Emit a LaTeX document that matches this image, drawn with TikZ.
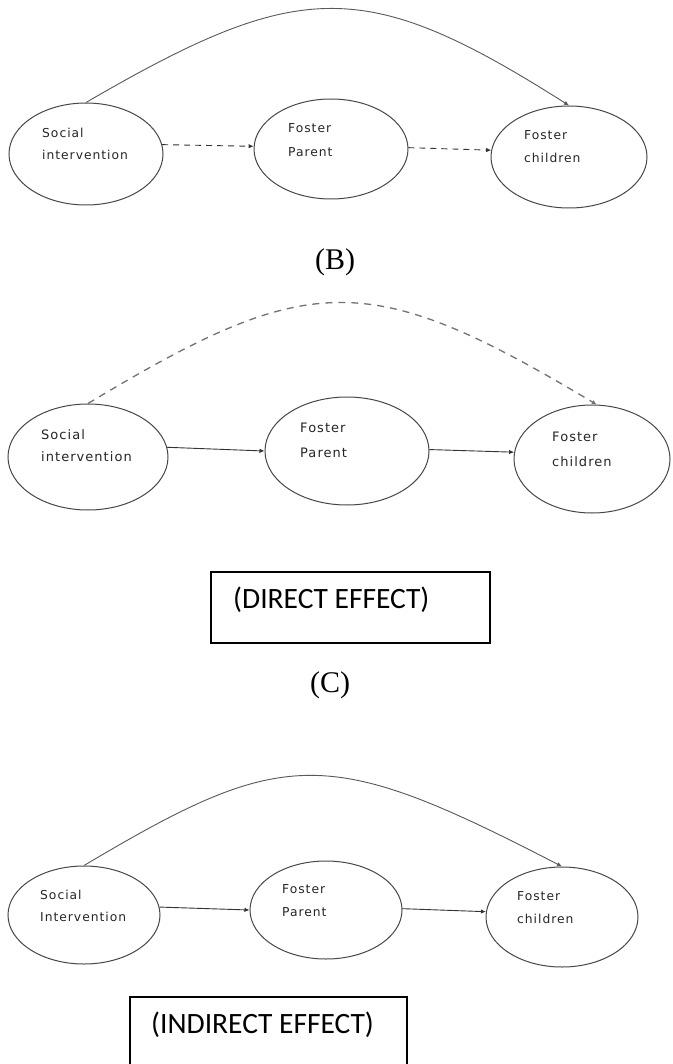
\documentclass[tikz,border=0pt]{standalone}
\usepackage{fontspec}
\setmainfont{Liberation Serif}
\newfontfamily\nodefont{DejaVu Sans}[LetterSpace=8]
\newfontfamily\boxfont{Carlito}
\usetikzlibrary{arrows.meta,shapes.geometric}
\begin{document}
\begin{tikzpicture}[x=1pt,y=-1pt,
  ell/.style={draw=black!72, line width=1pt, ellipse, inner sep=0pt},
  lbl/.style={anchor=west, inner sep=0pt, align=left, text=black!85},
  arr/.style={-{Latex[length=5pt,width=4.5pt]}, line width=0.9pt, draw=black!80},
  dsh/.style={arr, dash pattern=on 6pt off 5pt},
  arc/.style={-{Latex[length=5pt,width=4.5pt]}, line width=0.9pt, draw=black!65},
  darc/.style={arc, line width=1.3pt, draw=black!55, dash pattern=on 7pt off 6pt},
  effbox/.style={draw=black, line width=1.1pt, inner sep=0pt},
  efftext/.style={anchor=west, inner sep=0pt, font=\boxfont\fontsize{29.5}{31}\selectfont},
  panel/.style={inner sep=0pt, font=\fontsize{30}{32}\selectfont}
]
\useasboundingbox (0,0) rectangle (672,1064);
\clip (0,0) rectangle (672,1064);
\fill[white] (0,0) rectangle (672,1064);

% ---------- Panel 1 ----------
\node[ell, minimum width=154pt, minimum height=102pt] (a1) at (86,154) {};
\node[ell, minimum width=154pt, minimum height=100pt] (a2) at (331,149) {};
\node[ell, minimum width=156pt, minimum height=102pt] (a3) at (569,157) {};
\node[lbl, font=\nodefont\fontsize{12.3}{22}\selectfont] (ta1) at (42,144) {Social\\intervention};
\node[lbl, font=\nodefont\fontsize{12.3}{24}\selectfont] (ta2) at (288,140) {Foster\\Parent};
\node[lbl, font=\nodefont\fontsize{12.3}{23}\selectfont] (ta3) at (524,147) {Foster\\children};
\draw[dsh] (a1.7) -- (a2.178);
\draw[dsh] (a2.1) -- (a3.175);
\draw[arc] (a1.north) .. controls (300,-22) and (365,-24) .. (a3.north);
\node[panel] (lb) at (335,262) {(B)};

% ---------- Panel 2 ----------
\node[ell, minimum width=160pt, minimum height=106pt] (b1) at (88,457) {};
\node[ell, minimum width=164pt, minimum height=108pt] (b2) at (347,451) {};
\node[ell, minimum width=156pt, minimum height=108pt] (b3) at (592,459) {};
\node[lbl, font=\nodefont\fontsize{13}{22}\selectfont] (tb1) at (41,446) {Social\\intervention};
\node[lbl, font=\nodefont\fontsize{13}{25}\selectfont] (tb2) at (300,440) {Foster\\Parent};
\node[lbl, font=\nodefont\fontsize{13}{25}\selectfont] (tb3) at (552,449) {Foster\\children};
\draw[arr] (b1.7) -- (b2.180);
\draw[arr] (b2.1) -- (b3.175);
\draw[darc] (b1.north) .. controls (310,270) and (368,268) .. (b3.85);

\node[effbox, minimum width=279pt, minimum height=71pt] (box1) at (350.5,607.5) {};
\node[efftext] (tbox1) at (233,600) {(DIRECT EFFECT)};
\node[panel] (lc) at (330,685) {(C)};

% ---------- Panel 3 ----------
\node[ell, minimum width=152pt, minimum height=98pt] (c1) at (84,915) {};
\node[ell, minimum width=152pt, minimum height=98pt] (c2) at (326,910) {};
\node[ell, minimum width=152pt, minimum height=100pt] (c3) at (562,917) {};
\node[lbl, font=\nodefont\fontsize{12.3}{22}\selectfont] (tc1) at (40,906) {Social\\Intervention};
\node[lbl, font=\nodefont\fontsize{12.3}{23}\selectfont] (tc2) at (282,901) {Foster\\Parent};
\node[lbl, font=\nodefont\fontsize{12.3}{23}\selectfont] (tc3) at (517,908) {Foster\\children};
\draw[arr] (c1.6) -- (c2.180);
\draw[arr] (c2.1) -- (c3.176);
\draw[arc] (c1.north) .. controls (285,746) and (327,745) .. (c3.north);

\node[effbox, minimum width=277pt, minimum height=90pt] (box2) at (268.5,1042) {};
\node[efftext] (tbox2) at (151,1025) {(INDIRECT EFFECT)};
\end{tikzpicture}
\end{document}
